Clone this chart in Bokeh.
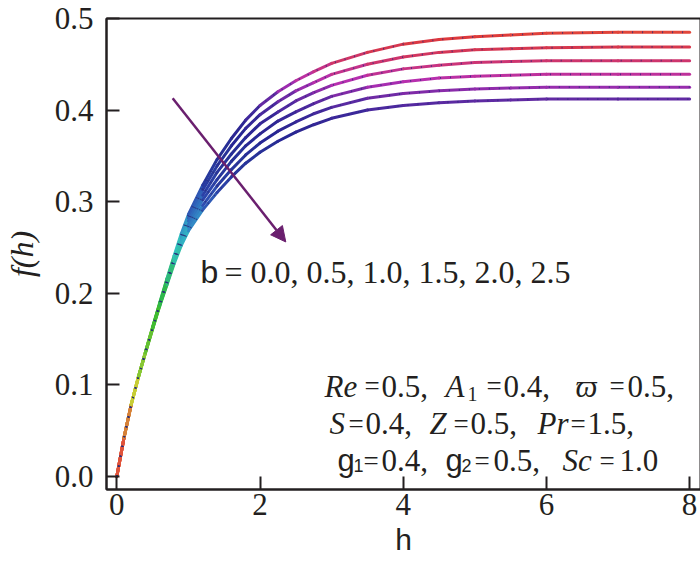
import colorsys
import numpy as np
from bokeh.plotting import figure
from bokeh.models import ColumnDataSource, Label, Arrow, NormalHead, FixedTicker, Range1d
from bokeh.embed import file_html
from bokeh.resources import INLINE

# ---------------- data ----------------
h = [0, 0.1, 0.2, 0.3, 0.4, 0.5, 0.6, 0.7, 0.8, 0.9, 1.0, 1.2, 1.4, 1.6, 1.8, 2.0,
     2.25, 2.5, 2.75, 3.0, 3.5, 4.0, 4.5, 5.0, 5.5, 6.0, 7.0, 8.0]
f_b00 = [0, 0.042, 0.078, 0.108, 0.136, 0.163, 0.190, 0.216, 0.241, 0.265, 0.286, 0.318, 0.346, 0.369,
         0.389, 0.405, 0.420, 0.432, 0.442, 0.451, 0.463, 0.472, 0.477, 0.480, 0.482, 0.484, 0.485, 0.485]
f_b05 = [0, 0.042, 0.078, 0.108, 0.136, 0.163, 0.189, 0.215, 0.239, 0.262, 0.282, 0.313, 0.339, 0.361,
         0.380, 0.395, 0.409, 0.421, 0.430, 0.439, 0.450, 0.458, 0.463, 0.466, 0.467, 0.468, 0.469, 0.469]
f_b10 = [0, 0.042, 0.078, 0.108, 0.136, 0.162, 0.188, 0.213, 0.237, 0.260, 0.279, 0.307, 0.332, 0.352,
         0.370, 0.385, 0.398, 0.410, 0.419, 0.427, 0.438, 0.445, 0.449, 0.452, 0.453, 0.454, 0.454, 0.454]
f_b15 = [0, 0.042, 0.078, 0.108, 0.135, 0.162, 0.188, 0.212, 0.236, 0.257, 0.275, 0.302, 0.324, 0.344,
         0.361, 0.374, 0.388, 0.398, 0.407, 0.415, 0.425, 0.431, 0.435, 0.437, 0.438, 0.439, 0.439, 0.439]
f_b20 = [0, 0.042, 0.078, 0.108, 0.135, 0.161, 0.187, 0.210, 0.234, 0.255, 0.272, 0.296, 0.317, 0.335,
         0.351, 0.364, 0.377, 0.387, 0.396, 0.403, 0.413, 0.418, 0.421, 0.423, 0.424, 0.425, 0.425, 0.425]
f_b25 = [0, 0.042, 0.078, 0.108, 0.135, 0.161, 0.186, 0.209, 0.232, 0.252, 0.268, 0.291, 0.310, 0.327,
         0.342, 0.354, 0.366, 0.376, 0.384, 0.391, 0.400, 0.405, 0.408, 0.410, 0.411, 0.412, 0.412, 0.412]
curves = [f_b00, f_b05, f_b10, f_b15, f_b20, f_b25]
b_values = ["0.0", "0.5", "1.0", "1.5", "2.0", "2.5"]

x_ticks = [0, 2, 4, 6, 8]
x_tick_labels = ["0", "2", "4", "6", "8"]
y_ticks = [0.0, 0.1, 0.2, 0.3, 0.4, 0.5]
y_tick_labels = ["0.0", "0.1", "0.2", "0.3", "0.4", "0.5"]

Re, A1, varpi = "0.5", "0.4", "0.5"
S, Z, Pr = "0.4", "0.5", "1.5"
g1, g2, Sc = "0.4", "0.5", "1.0"

# ---------------- style ----------------
INK = "#231f20"
SERIF = "Liberation Serif"
SERIF_Q = "'Liberation Serif'"
SANS = "Liberation Sans"
FS = 31

def seg_color(fv):
    hue = np.interp(fv, [0.0, 0.03, 0.06, 0.09, 0.12, 0.17, 0.22, 0.25, 0.28, 0.31, 0.36, 0.395, 0.412,
                         0.425, 0.439, 0.454, 0.469, 0.485, 0.5],
                    [2, 12, 28, 60, 85, 110, 150, 178, 205, 228, 236, 250, 268, 290, 315, 338, 352, 364, 366])
    val = np.interp(fv, [0, 0.1, 0.2, 0.28, 0.33, 0.38, 0.42, 0.45, 0.49], [0.9, 0.8, 0.72, 0.78, 0.62, 0.58, 0.66, 0.8, 0.9])
    r, g, b = colorsys.hsv_to_rgb((hue % 360) / 360.0, 0.74, val)
    return "#%02x%02x%02x" % (int(r * 255), int(g * 255), int(b * 255))

p = figure(frame_width=594, frame_height=471, output_backend="svg", toolbar_location=None,
           x_range=Range1d(-0.144, 8.152), y_range=Range1d(-0.0143, 0.5),
           min_border_left=104, min_border_right=2, min_border_top=18, min_border_bottom=71)
p.background_fill_color = "white"
p.border_fill_color = "white"
p.grid.visible = False
p.outline_line_color = INK
p.outline_line_width = 2

xa = p.xaxis[0]
ya = p.yaxis[0]
for ax, ticks, labels in ((xa, x_ticks, x_tick_labels), (ya, y_ticks, y_tick_labels)):
    ax.ticker = FixedTicker(ticks=ticks)
    ax.major_label_overrides = {t: l for t, l in zip(ticks, labels)}
    ax.major_tick_in = 13
    ax.major_tick_out = 0
    ax.minor_tick_in = 0
    ax.minor_tick_out = 0
    ax.major_tick_line_width = 2
    ax.major_tick_line_color = INK
    ax.axis_line_width = 2
    ax.axis_line_color = INK
    ax.major_label_text_font = SERIF_Q
    ax.major_label_text_font_size = f"{FS}px"
    ax.major_label_text_color = INK
    ax.axis_label_text_color = INK
xa.major_label_standoff = 4
ya.major_label_standoff = 13
xa.axis_label = "h"
xa.axis_label_text_font = "'Liberation Sans'"
xa.axis_label_text_font_size = "30px"
xa.axis_label_text_font_style = "normal"
xa.axis_label_standoff = 5
ya.axis_label = "f(h)"
ya.axis_label_text_font = SERIF_Q
ya.axis_label_text_font_size = "32px"
ya.axis_label_text_font_style = "italic"
ya.axis_label_standoff = 12

# curves: colour varies along each curve with the value of f
for fv in curves:
    x0 = h[:-1]; x1 = h[1:]
    y0 = fv[:-1]; y1 = fv[1:]
    cols = [seg_color(0.5 * (a + b)) for a, b in zip(y0, y1)]
    src = ColumnDataSource(dict(x0=x0, x1=x1, y0=y0, y1=y1, c=cols))
    p.segment("x0", "y0", "x1", "y1", source=src, line_color="c", line_width=3, line_cap="round")
for fv in curves:
    p.line(h, fv, line_color="#2b2d7c", line_width=1.8, line_dash="1 9", line_alpha=0.8)

# arrow
ARROW_C = "#6a1f6e"
p.add_layout(Arrow(x_start=0.78, y_start=0.413, x_end=2.36, y_end=0.256, line_color=ARROW_C, line_width=2.5,
                   end=NormalHead(size=15, fill_color=ARROW_C, line_color=ARROW_C)))

# text helpers (reference pixel -> data coordinates)
X0, XS, Y0, YS = 114.3, 71.6, 475.8, 922.5

def put(text, X, Yb, font=SERIF, size=FS, style="normal", angle=0.0):
    p.add_layout(Label(x=(X - X0) / XS, y=(Y0 - Yb) / YS, text=text, text_font=font,
                       text_font_size=f"{size}px", text_font_style=style, text_color=INK,
                       text_baseline="alphabetic", text_align="left", angle=angle))

# b label
put("b", 198, 270, font=SANS, size=32)
put("= " + ", ".join(b_values), 222, 270, size=32)

# parameter block
L1, L2, L3 = 385, 423, 460
EQ = 27
put("Re", 322, L1, style="italic"); put("=", 362, L1, size=EQ); put(Re + ",", 379, L1)
put("A", 443, L1, style="italic"); put("1", 465, L1 + 8, size=20); put("=", 484, L1, size=EQ); put(A1 + ",", 501, L1)
put("\u03d6", 573, L1, style="italic"); put("=", 607, L1, size=EQ); put(varpi + ",", 625, L1)

put("S", 327, L2, style="italic"); put("=", 346, L2, size=EQ); put(S + ",", 363, L2)
put("Z", 427, L2, style="italic"); put("=", 451, L2, size=EQ); put(Z + ",", 468, L2)
put("Pr", 535, L2, style="italic"); put("=", 568, L2, size=EQ); put(Pr + ",", 585, L2)

put("g", 335, L3, font=SANS); put("1", 351, L3 + 5, size=18, font=SANS); put("=", 361, L3, size=EQ); put(g1 + ",", 379, L3)
put("g", 443, L3, font=SANS); put("2", 459, L3 + 5, size=18, font=SANS); put("=", 472, L3, size=EQ); put(g2 + ",", 491, L3)
put("Sc", 560, L3, style="italic"); put("=", 597, L3, size=EQ); put(Sc, 617, L3)

open("out.html", "w").write(file_html(p, INLINE))
